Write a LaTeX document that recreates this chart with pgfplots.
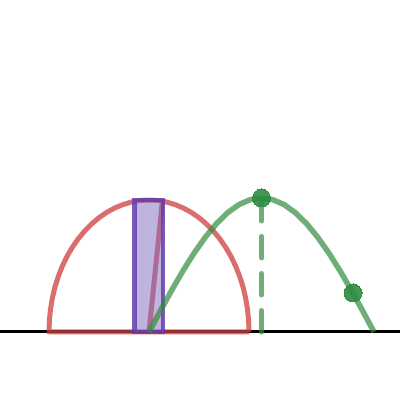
\documentclass[border=0pt]{standalone}
\usepackage{pgfplots}
\pgfplotsset{compat=1.18}
\definecolor{redc}{RGB}{206,62,62}
\definecolor{purpf}{RGB}{125,105,189}
\definecolor{purps}{RGB}{100,60,170}
\definecolor{greenc}{RGB}{50,140,60}
\definecolor{greend}{RGB}{45,140,65}
\begin{document}
\begin{tikzpicture}
\begin{axis}[
  width=400bp, height=400bp, scale only axis,
  xmin=0, xmax=400, ymin=0, ymax=400,
  hide axis, clip=false,
]
\coordinate (ll) at (rel axis cs:0,0);
\coordinate (ur) at (rel axis cs:1,1);
% baseline
\addplot[black, line width=3bp] coordinates {(0,68) (400,68)};
% semicircle (ellipse) with diameter
\addplot[redc, draw opacity=0.75, line width=5bp, line join=round] coordinates {
(249,68) (248.62,79.50) (247.48,90.92) (245.59,102.16) (242.97,113.14) (239.63,123.78) (235.60,134.00)
(230.92,143.72) (225.60,152.85) (219.70,161.33) (213.28,169.11) (206.36,176.10) (199.00,182.31)
(191.26,187.63) (183.20,192.04) (174.88,195.50) (166.36,197.99) (157.72,199.50) (149,200)
(140.28,199.50) (131.64,197.99) (123.12,195.50) (114.80,192.04) (106.74,187.63) (99.00,182.31)
(91.64,176.10) (84.72,169.11) (78.30,161.33) (72.40,152.85) (67.08,143.72) (62.40,134.00)
(58.37,123.78) (55.03,113.14) (52.41,102.16) (50.52,90.92) (49.38,79.50) (49,68) (249,68)
};
% red line inside rectangle
\addplot[redc, draw opacity=0.75, line width=5bp] coordinates {(149,68) (162.5,200)};
% rectangle
\addplot[draw=purps, draw opacity=0.85, fill=purpf, fill opacity=0.5, line width=4.5bp, line join=miter] coordinates {
(134.5,68) (163,68) (163,200) (134.5,200) (134.5,68)} --cycle;
% sine curve
\addplot[greenc, draw opacity=0.7, line width=5.5bp, line join=round] coordinates {
(149,68) (160.25,88.96) (171.5,109.41) (182.75,128.84) (194,146.77) (205.25,162.75) (216.5,176.41)
(227.75,187.39) (239,195.45) (250.25,200.35) (261.5,202) (272.75,200.35) (284,195.45) (295.25,187.39)
(306.5,176.41) (317.75,162.75) (329,146.77) (340.25,128.84) (351.5,109.41) (362.75,88.96) (374,68)
};
% dashed vertical
\addplot[greenc, draw opacity=0.7, line width=5bp, line cap=round, dash pattern=on 21.5bp off 15.5bp] coordinates {(261.5,68) (261.5,202)};
% dots
\addplot[greend, only marks, mark=*, mark size=9bp, opacity=0.9, mark options={draw=greend, fill=greend, line width=0pt}] coordinates {(261.5,202) (353,107)};
\end{axis}
\pgfresetboundingbox
\useasboundingbox (ll) rectangle (ur);
\end{tikzpicture}
\end{document}
